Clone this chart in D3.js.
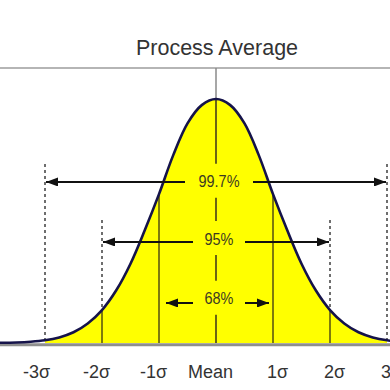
<!DOCTYPE html>
<html>
<head>
<meta charset="utf-8">
<script src="https://cdn.jsdelivr.net/npm/d3@7"></script>
<style>
  html, body { margin: 0; padding: 0; background: #fff; }
  svg { display: block; }
</style>
</head>
<body>
<script>
// ---- data ----
const title = "Process Average";
const sigmaTicks = [-3, -2, -1, 0, 1, 2, 3];
const tickLabels = ["-3σ", "-2σ", "-1σ", "Mean", "1σ", "2σ", "3σ"];
const rangeLabels = ["99.7%", "95%", "68%"];
const rangeSigmas = [3, 2, 1];
// curve (x in σ, height relative to the peak)
const curveX = [-3.8, -3.5, -3.25, -3, -2.75, -2.5, -2.25, -2, -1.75, -1.5, -1.25, -1, -0.75, -0.5, -0.25, 0,
                0.25, 0.5, 0.75, 1, 1.25, 1.5, 1.75, 2, 2.25, 2.5, 2.75, 3, 3.25];
const curveY = [0.001, 0.002, 0.005, 0.011, 0.023, 0.044, 0.080, 0.135, 0.216, 0.325, 0.462, 0.61, 0.77, 0.9, 0.975, 1.0,
                0.975, 0.9, 0.77, 0.61, 0.462, 0.325, 0.216, 0.135, 0.080, 0.044, 0.023, 0.011, 0.005];

// ---- layout ----
const W = 390, H = 390;
const baseY = 343;
const x = d3.scaleLinear().domain([-3, 3]).range([45, 387]);
const y = d3.scaleLinear().domain([0, 1]).range([baseY, 99]);
const arrowLevels = [0.66, 0.414, 0.164];   // heights (relative) of the range arrows
const labelLevels = [0.665, 0.43, 0.185];

const pts = curveX.map((v, i) => ({ x: v, y: curveY[i] }));
const heightAt = v => { const p = pts.find(d => d.x === v); return p ? p.y : 0; };

const svg = d3.select("body").append("svg").attr("width", W).attr("height", H);
svg.append("rect").attr("width", W).attr("height", H).attr("fill", "#fff");

const defs = svg.append("defs");
defs.append("marker").attr("id", "ah")
  .attr("viewBox", "0 0 12 9").attr("refX", 12).attr("refY", 4.5)
  .attr("markerWidth", 12).attr("markerHeight", 9)
  .attr("markerUnits", "userSpaceOnUse").attr("orient", "auto")
  .append("path").attr("d", "M0,0 L12,4.5 L0,9 Z").attr("fill", "#111");

// top line and process-average pointer
svg.append("line").attr("x1", 0).attr("x2", W).attr("y1", 68).attr("y2", 68)
  .attr("stroke", "#9c9c9c").attr("stroke-width", 1.5);
svg.append("line").attr("x1", x(0)).attr("x2", x(0)).attr("y1", 68).attr("y2", y(1))
  .attr("stroke", "#8a8a8a").attr("stroke-width", 1.5);

// dotted guide lines at ±3σ and ±2σ
const guideTops = { 3: 164, 2: 220 };
[-3, 3, -2, 2].forEach(v => {
  svg.append("line").attr("x1", x(v)).attr("x2", x(v))
    .attr("y1", guideTops[Math.abs(v)]).attr("y2", baseY)
    .attr("stroke", "#6e6e6e").attr("stroke-width", 2).attr("stroke-dasharray", "3,3");
});

// yellow area between -3σ and 3σ
const area = d3.area().x(d => x(d.x)).y0(baseY).y1(d => y(d.y)).curve(d3.curveCatmullRom);
svg.append("path").datum(pts.filter(d => d.x >= -3 && d.x <= 3))
  .attr("d", area).attr("fill", "#ffff00");

// solid lines at ±1σ, ±2σ inside the area
[-2, -1, 1, 2].forEach(v => {
  svg.append("line").attr("x1", x(v)).attr("x2", x(v))
    .attr("y1", baseY).attr("y2", y(heightAt(v)))
    .attr("stroke", "#5e5a10").attr("stroke-width", 1.6);
});

// mean line, broken around the labels
const gaps = labelLevels.map(l => [y(l) - 17, y(l) + 17]);
let segStart = y(1);
gaps.forEach(g => {
  svg.append("line").attr("x1", x(0)).attr("x2", x(0)).attr("y1", segStart).attr("y2", g[0])
    .attr("stroke", "#6a6414").attr("stroke-width", 2);
  segStart = g[1];
});
svg.append("line").attr("x1", x(0)).attr("x2", x(0)).attr("y1", segStart).attr("y2", baseY)
  .attr("stroke", "#6a6414").attr("stroke-width", 2);

// baseline
svg.append("line").attr("x1", 0).attr("x2", W).attr("y1", baseY + 1.8).attr("y2", baseY + 1.8)
  .attr("stroke", "#8e8e8e").attr("stroke-width", 3);

// curve outline
const line = d3.line().x(d => x(d.x)).y(d => y(d.y)).curve(d3.curveCatmullRom);
svg.append("path").datum(pts).attr("d", line)
  .attr("fill", "none").attr("stroke", "#15134a").attr("stroke-width", 2.6);

// range arrows with labels
const gapHalf = [34, 26, 26];
const tipInset = [0, 0, 6];
rangeLabels.forEach((lab, i) => {
  const s = rangeSigmas[i];
  const ay = y(arrowLevels[i]);
  const cx = x(0) + 3;
  const left = x(-s) + tipInset[i], right = x(s) - (i === 2 ? 3 : 0);
  svg.append("line").attr("x1", cx - gapHalf[i]).attr("x2", left + 1).attr("y1", ay).attr("y2", ay)
    .attr("stroke", "#111").attr("stroke-width", 2).attr("marker-end", "url(#ah)");
  svg.append("line").attr("x1", cx + gapHalf[i]).attr("x2", right - 1).attr("y1", ay).attr("y2", ay)
    .attr("stroke", "#111").attr("stroke-width", 2).attr("marker-end", "url(#ah)");
  svg.append("text")
    .attr("transform", `translate(${cx},${y(labelLevels[i]) + 6.5}) scale(0.85,1)`)
    .attr("text-anchor", "middle")
    .attr("font-family", "Liberation Sans, Arial, sans-serif")
    .attr("font-size", 17).attr("fill", "#3c3a22")
    .text(lab);
});

// bottom axis labels
const axis = d3.axisBottom(x).tickValues(sigmaTicks)
  .tickFormat((d, i) => tickLabels[i]).tickSize(0).tickPadding(20);
const ax = svg.append("g").attr("transform", `translate(0,${baseY + 2})`).call(axis);
ax.select(".domain").remove();
ax.selectAll("text")
  .attr("font-family", "Liberation Sans, Arial, sans-serif")
  .attr("font-size", 18).attr("fill", "#333")
  .attr("dx", d => d < 0 ? (d === -3 ? -9 : -6) : (d === 0 ? -6 : 4));

// title
svg.append("text").attr("x", 217).attr("y", 55).attr("text-anchor", "middle")
  .attr("font-family", "Liberation Sans, Arial, sans-serif")
  .attr("font-size", 21.5).attr("fill", "#333").text(title);
</script>
</body>
</html>
